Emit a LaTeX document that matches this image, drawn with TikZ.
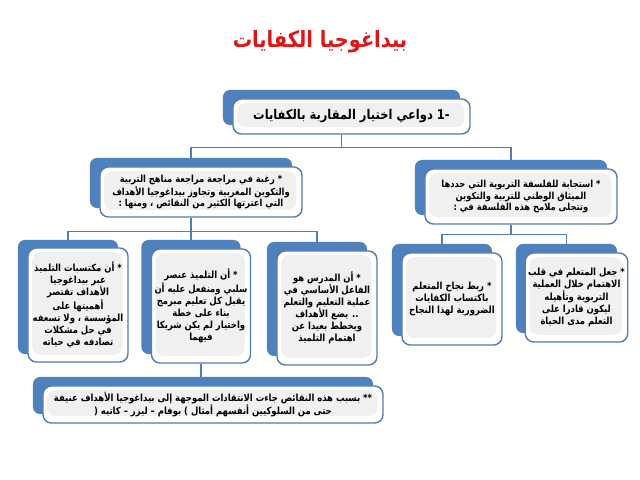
\documentclass[tikz,border=0pt]{standalone}
\usepackage{fontspec}
\newfontfamily\arabicfont[Script=Arabic,FakeStretch=0.86]{DejaVu Sans}
\TeXXeTstate=1
\newdimen\px \px=0.7113pt
\newcommand{\ar}[1]{\beginR #1\endR}
\definecolor{boxblue}{RGB}{79,129,189}
\definecolor{edgeblue}{RGB}{84,124,176}
\definecolor{titlered}{RGB}{224,22,22}

\begin{document}
\begin{tikzpicture}[x=0.025cm,y=-0.025cm,
    backbox/.style={fill=boxblue,rounded corners=5pt,inner sep=0pt},
    frontbox/.style={draw=edgeblue,line width=1pt,fill=white,rounded corners=6pt,
      align=center,inner sep=2pt,
      font=\arabicfont\bfseries\fontsize{7}{8.6}\selectfont,
      path picture={\fill[black!6] ([shift={(3pt,-3pt)}]path picture bounding box.north west)
        rectangle ([shift={(-4pt,5pt)}]path picture bounding box.south east);}},
    link/.style={draw=edgeblue,line width=0.9pt}]
    \fill[white] (0,0) rectangle (640,480);
    \useasboundingbox (0,0) rectangle (640,480);

    \node[text=titlered,font=\arabicfont\bfseries\fontsize{16}{19}\selectfont] (title) at (320,42) {\ar{بيداغوجيا الكفايات}};

    \node[backbox,minimum width=237\px,minimum height=35\px] (topback) at (341.5,107.5) {};
    \node[frontbox,minimum width=237\px,minimum height=35\px,font=\arabicfont\bfseries\fontsize{9.5}{11}\selectfont] (top) at (351.5,116.5) {\ar{-1 دواعي اختيار المقاربة بالكفايات}};

    \node[backbox,minimum width=202\px,minimum height=50\px] (midLback) at (191,183) {};
    \node[frontbox,minimum width=202\px,minimum height=50\px,font=\arabicfont\bfseries\fontsize{6.9}{7.4}\selectfont] (midL) at (201,192) {\ar{* رغبة في مراجعة مراجعة مناهج التربية}\\ \ar{والتكوين المغربية وتجاوز بيداغوجيا الأهداف}\\ \ar{التي اعترتها الكثير من النقائص ، ومنها :}};

    \node[backbox,minimum width=192\px,minimum height=55\px] (midRback) at (511,187.5) {};
    \node[frontbox,minimum width=192\px,minimum height=55\px,font=\arabicfont\bfseries\fontsize{6.9}{8}\selectfont] (midR) at (521,196.5) {\ar{* استجابة للفلسفة التربوية التي حددها}\\ \ar{الميثاق الوطني للتربية والتكوين}\\ \ar{وتتجلى ملامح هذه الفلسفة في :}};

    \node[backbox,minimum width=100\px,minimum height=114\px] (Aback) at (68,297) {};
    \node[frontbox,minimum width=100\px,minimum height=114\px] (A) at (78,305) {\ar{* أن مكتسبات التلميذ}\\ \ar{عبر بيداغوجيا}\\ \ar{الأهداف تقتصر}\\ \ar{أهميتها على}\\ \ar{المؤسسة ، ولا تسعفه}\\ \ar{في حل مشكلات}\\ \ar{تصادفه في حياته}};

    \node[backbox,minimum width=99\px,minimum height=114\px] (Bback) at (191,297) {};
    \node[frontbox,minimum width=99\px,minimum height=114\px] (B) at (201,306) {\ar{* أن التلميذ عنصر}\\ \ar{سلبي ومنفعل عليه أن}\\ \ar{يقبل كل تعليم مبرمج}\\ \ar{بناء على خطة}\\ \ar{واختيار لم يكن شريكا}\\ \ar{فيهما}};

    \node[backbox,minimum width=100\px,minimum height=114\px] (Cback) at (317,299) {};
    \node[frontbox,minimum width=100\px,minimum height=114\px] (C) at (327,308) {\ar{* أن المدرس هو}\\ \ar{الفاعل الأساسي في}\\ \ar{عملية التعليم والتعلم}\\ \ar{.. يضع الأهداف}\\ \ar{ويخطط بعيدا عن}\\ \ar{اهتمام التلميذ}};

    \node[backbox,minimum width=100\px,minimum height=92\px] (Dback) at (442,290) {};
    \node[frontbox,minimum width=100\px,minimum height=92\px] (D) at (452,299) {\ar{* ربط نجاح المتعلم}\\ \ar{باكتساب الكفايات}\\ \ar{الضرورية لهذا النجاح}};

    \node[backbox,minimum width=101\px,minimum height=89\px] (Eback) at (566.5,288.5) {};
    \node[frontbox,minimum width=101\px,minimum height=89\px] (E) at (576.5,297.5) {\ar{* جعل المتعلم في قلب}\\ \ar{الاهتمام خلال العملية}\\ \ar{التربوية  وتأهيله}\\ \ar{ليكون قادرا على}\\ \ar{التعلم مدى الحياة}};

    \node[backbox,minimum width=340\px,minimum height=37\px] (botback) at (203,395.5) {};
    \node[frontbox,minimum width=340\px,minimum height=37\px,font=\arabicfont\bfseries\fontsize{7}{8.2}\selectfont] (bot) at (213,404.5) {\ar{** بسبب هذه النقائص جاءت الانتقادات الموجهة إلى بيداغوجيا الأهداف عنيفة}\\ \ar{حتى من السلوكيين أنفسهم أمثال ) بوفام – ليزر – كاتيه (}};

    \draw[link] (topback |- top.south) -- ++(0,13) coordinate (j1);
    \draw[link] (midLback.north) |- (j1) -| (midRback.north);

    \draw[link] (midLback |- midL.south) -- ++(0,14) coordinate (j2);
    \draw[link] (Aback.north) |- (j2) -| (Cback.north);
    \draw[link] (j2) -- (Bback.north);

    \draw[link] (midRback |- midR.south) -- ++(0,10) coordinate (j3);
    \draw[link] (Dback.north) |- (j3) -| (Eback.north);

    \draw[link] (B.south) -- (B.south |- botback.north);
\end{tikzpicture}
\end{document}
